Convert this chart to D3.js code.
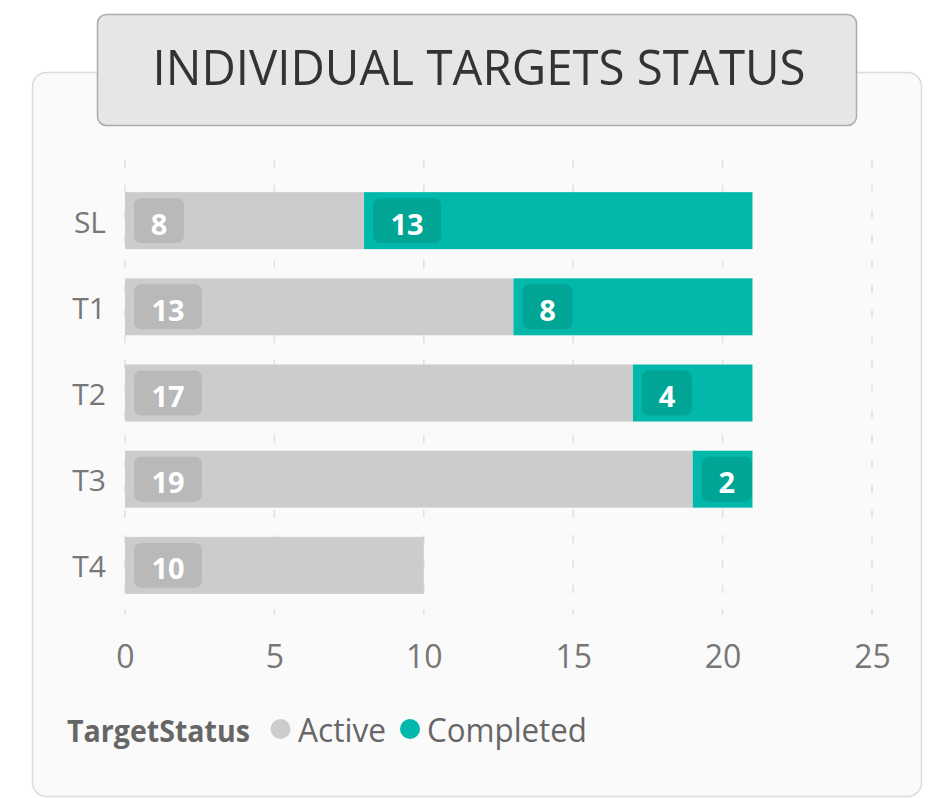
<!DOCTYPE html>
<html>
<head>
<meta charset="utf-8">
<script src="https://cdn.jsdelivr.net/npm/d3@7"></script>
<style>
  body { margin: 0; background: #ffffff; }
  svg { display: block; font-family: "Open Sans", "Noto Sans", sans-serif; }
</style>
</head>
<body>
<div id="chart"></div>
<script>
// data
const targets = ["SL", "T1", "T2", "T3", "T4"];
const activeCounts = [8, 13, 17, 19, 10];
const completedCounts = [13, 8, 4, 2, 0];
const statuses = ["Active", "Completed"];
const xTicks = [0, 5, 10, 15, 20, 25];

const colors = { Active: "#cccccc", Completed: "#01b8aa" };
const boxColors = { Active: "#b9b9b9", Completed: "#00a596" };

const W = 928, H = 798;

const svg = d3.select("#chart").append("svg")
    .attr("width", W)
    .attr("height", H);

// card background
svg.append("rect")
    .attr("x", 32.5).attr("y", 72.5)
    .attr("width", 889).attr("height", 724)
    .attr("rx", 14)
    .attr("fill", "#fafafa")
    .attr("stroke", "#dcdcdc")
    .attr("stroke-width", 1.5);

// title box
svg.append("rect")
    .attr("x", 97.5).attr("y", 14.5)
    .attr("width", 759).attr("height", 111)
    .attr("rx", 9)
    .attr("fill", "#e6e6e6")
    .attr("stroke", "#ababab")
    .attr("stroke-width", 1.5);

svg.append("text")
    .attr("x", 479).attr("y", 85)
    .attr("text-anchor", "middle")
    .style("font-size", "50px")
    .style("fill", "#333333")
    .attr("textLength", 653)
    .attr("lengthAdjust", "spacingAndGlyphs")
    .text("INDIVIDUAL TARGETS STATUS");

// scales
const x = d3.scaleLinear()
    .domain([0, 25])
    .range([125, 872]);

const y = d3.scaleBand()
    .domain(targets)
    .range([177.5, 608.5])
    .paddingInner(0.339)
    .paddingOuter(0.17);

// grid lines
svg.append("g")
    .selectAll("line")
    .data(xTicks)
    .join("line")
    .attr("x1", d => x(d)).attr("x2", d => x(d))
    .attr("y1", 160).attr("y2", 615)
    .attr("stroke", "#e0e0e0")
    .attr("stroke-width", 1.5)
    .attr("stroke-dasharray", "8,17");

// x axis
const xAxis = svg.append("g")
    .attr("transform", "translate(0,645)")
    .call(d3.axisBottom(x).tickValues(xTicks).tickSize(0).tickPadding(0));
xAxis.select(".domain").remove();
xAxis.selectAll("text")
    .attr("dy", "0.71em")
    .style("font-size", "32px")
    .style("fill", "#777777")
    .style("font-family", "'Open Sans', sans-serif");

// y axis
const yAxis = svg.append("g")
    .attr("transform", "translate(106,0)")
    .call(d3.axisLeft(y).tickSize(0).tickPadding(0));
yAxis.select(".domain").remove();
yAxis.selectAll("text")
    .attr("dy", "0.4em")
    .style("font-size", "30px")
    .style("fill", "#777777")
    .style("font-family", "'Open Sans', sans-serif");

// stacked data
const rows = targets.map((t, i) => ({ target: t, Active: activeCounts[i], Completed: completedCounts[i] }));
const stack = d3.stack().keys(statuses)(rows);

const layers = svg.append("g")
    .selectAll("g")
    .data(stack)
    .join("g")
    .attr("fill", d => colors[d.key]);

layers.selectAll("rect")
    .data(d => d.filter(s => s[1] > s[0]))
    .join("rect")
    .attr("x", d => x(d[0]))
    .attr("y", d => y(d.data.target))
    .attr("width", d => x(d[1]) - x(d[0]))
    .attr("height", y.bandwidth());

// data labels with rounded boxes
stack.forEach(layer => {
    layer.filter(s => s[1] > s[0]).forEach(s => {
        const v = s[1] - s[0];
        const bw = String(v).length > 1 ? 68 : 50;
        const bx = x(s[0]) + 9;
        const by = y(s.data.target) + 6;
        svg.append("rect")
            .attr("x", bx).attr("y", by)
            .attr("width", bw).attr("height", y.bandwidth() - 12)
            .attr("rx", 7)
            .attr("fill", boxColors[layer.key]);
        svg.append("text")
            .attr("x", bx + bw / 2)
            .attr("y", y(s.data.target) + y.bandwidth() / 2 + 14)
            .attr("text-anchor", "middle")
            .style("font-size", "29px")
            .style("font-weight", "bold")
            .style("fill", "#ffffff")
            .text(v);
    });
});

// legend
const legend = svg.append("g").attr("transform", "translate(67,742)");
legend.append("text")
    .attr("x", 0).attr("y", 0)
    .style("font-size", "30px")
    .style("font-weight", "bold")
    .style("fill", "#666666")
    .attr("textLength", 183)
    .attr("lengthAdjust", "spacingAndGlyphs")
    .text("TargetStatus");

const legendPos = [
    { key: "Active", cx: 213.5, tx: 231, w: 88 },
    { key: "Completed", cx: 343, tx: 360, w: 160 }
];
legendPos.forEach(l => {
    legend.append("circle")
        .attr("cx", l.cx).attr("cy", -13)
        .attr("r", 10)
        .attr("fill", colors[l.key]);
    legend.append("text")
        .attr("x", l.tx).attr("y", 0)
        .style("font-size", "33px")
        .style("fill", "#666666")
        .attr("textLength", l.w)
        .attr("lengthAdjust", "spacingAndGlyphs")
        .text(l.key);
});
</script>
</body>
</html>
